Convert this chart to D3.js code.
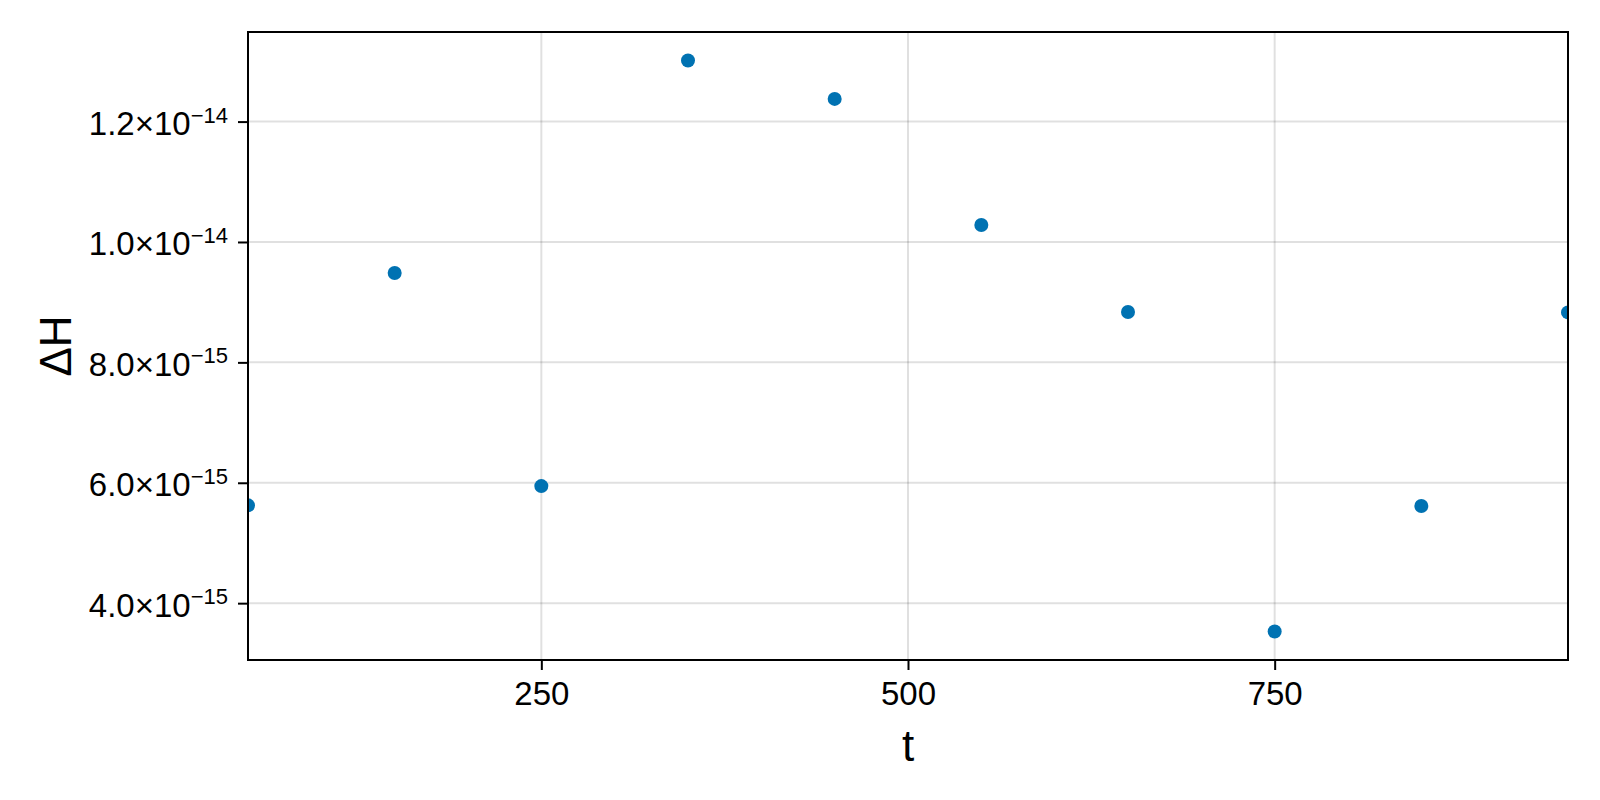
<!DOCTYPE html>
<html>
<head>
<meta charset="utf-8">
<script src="https://cdn.jsdelivr.net/npm/d3@7"></script>
<style>
  html, body { margin: 0; padding: 0; background: #fff; }
  svg { display: block; font-family: "Liberation Sans", Arial, Helvetica, sans-serif; }
</style>
</head>
<body>
<script>
// ---- data ----
const tValues  = [50, 150, 250, 350, 450, 550, 650, 750, 850, 950];
const dHValues = [5.625e-15, 9.485e-15, 5.945e-15, 1.3014e-14, 1.2377e-14,
                  1.0283e-14, 8.836e-15, 3.53e-15, 5.613e-15, 8.83e-15];
const xTicks = [250, 500, 750];
const xTickLabels = ["250", "500", "750"];
const yTicks = [4e-15, 6e-15, 8e-15, 1e-14, 1.2e-14];
const yTickMantissa = ["4.0", "6.0", "8.0", "1.0", "1.2"];
const yTickExponent = ["\u221215", "\u221215", "\u221215", "\u221214", "\u221214"];
const xLabel = "t";
const yLabel = "\u0394H";

// ---- layout ----
const W = 1600, H = 800;
const margin = { left: 248, right: 32, top: 32, bottom: 140 };
const iw = W - margin.left - margin.right;
const ih = H - margin.top - margin.bottom;
const tickFont = 33, supFont = 22, labelFont = 44;

const svg = d3.select("body").append("svg").attr("width", W).attr("height", H);
const g = svg.append("g").attr("transform", `translate(${margin.left},${margin.top})`);

const x = d3.scaleLinear().domain(d3.extent(tValues)).range([0, iw]);
const [ymin, ymax] = d3.extent(dHValues);
const pad = (ymax - ymin) * 0.05;
const y = d3.scaleLinear().domain([ymin - pad, ymax + pad]).range([ih, 0]);

// grid
const gridColor = "rgba(0,0,0,0.12)";
g.append("g").selectAll("line").data(xTicks).join("line")
  .attr("x1", d => x(d)).attr("x2", d => x(d)).attr("y1", 0).attr("y2", ih)
  .attr("stroke", gridColor).attr("stroke-width", 2);
g.append("g").selectAll("line").data(yTicks).join("line")
  .attr("y1", d => y(d)).attr("y2", d => y(d)).attr("x1", 0).attr("x2", iw)
  .attr("stroke", gridColor).attr("stroke-width", 2);

// points (clipped to plot area)
svg.append("defs").append("clipPath").attr("id", "plotclip")
  .append("rect").attr("x", 0).attr("y", 0).attr("width", iw).attr("height", ih);
g.append("g").attr("clip-path", "url(#plotclip)")
  .selectAll("circle").data(tValues.map((t, i) => [t, dHValues[i]])).join("circle")
  .attr("cx", d => x(d[0])).attr("cy", d => y(d[1])).attr("r", 7)
  .attr("fill", "#0072B2");

// axes
const xAxis = d3.axisBottom(x).tickValues(xTicks).tickSize(10).tickSizeOuter(0)
  .tickFormat((d, i) => xTickLabels[i]);
const gx = g.append("g").attr("transform", `translate(0,${ih})`).call(xAxis);
gx.select(".domain").remove();
gx.selectAll(".tick line").attr("stroke", "#000").attr("stroke-width", 2);
gx.selectAll(".tick text").attr("y", 45).attr("dy", 0)
  .attr("font-size", tickFont).attr("font-family", "Liberation Sans, Arial, sans-serif").attr("fill", "#000");

const yAxis = d3.axisLeft(y).tickValues(yTicks).tickSize(10).tickSizeOuter(0).tickFormat("");
const gy = g.append("g").call(yAxis);
gy.select(".domain").remove();
gy.selectAll(".tick line").attr("stroke", "#000").attr("stroke-width", 2);
gy.selectAll(".tick text").each(function(d, i) {
  const t = d3.select(this);
  t.text(null).attr("x", -20).attr("dy", 0).attr("y", 13)
    .attr("font-size", tickFont).attr("font-family", "Liberation Sans, Arial, sans-serif")
    .attr("fill", "#000").attr("text-anchor", "end");
  t.append("tspan").text(yTickMantissa[i] + "\u00D7" + "10");
  t.append("tspan").attr("font-size", supFont).attr("dy", -12.5).text(yTickExponent[i]);
});

// frame
g.append("rect").attr("x", 0).attr("y", 0).attr("width", iw).attr("height", ih)
  .attr("fill", "none").attr("stroke", "#000").attr("stroke-width", 2);

// axis labels
svg.append("text").attr("x", margin.left + iw / 2).attr("y", 761)
  .attr("text-anchor", "middle").attr("font-size", labelFont).attr("fill", "#000")
  .text(xLabel);
svg.append("text")
  .attr("transform", `translate(71,${margin.top + ih / 2}) rotate(-90)`)
  .attr("text-anchor", "middle").attr("font-size", labelFont).attr("fill", "#000")
  .text(yLabel);
</script>
</body>
</html>
